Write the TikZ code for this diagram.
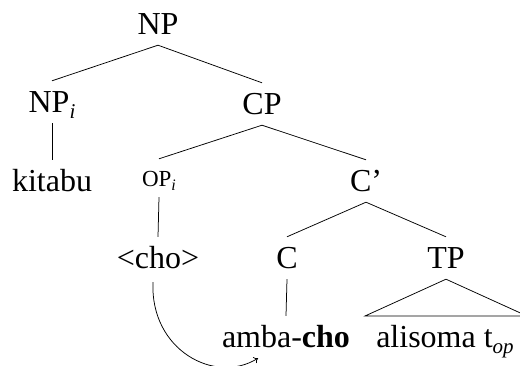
\documentclass[tikz,border=0pt]{standalone}
\usepackage{fontspec}
\setmainfont{Liberation Serif}
\usetikzlibrary{arrows.meta}
\newcommand\subsc[1]{\raisebox{-5.5pt}{\fontsize{21}{22}\selectfont\itshape #1}}
\newcommand\subsm[1]{\raisebox{-4pt}{\fontsize{16}{17}\selectfont\itshape #1}}
\begin{document}
\begin{tikzpicture}[x=1pt,y=-1pt,
  lbl/.style={anchor=base, font=\fontsize{32}{36}\selectfont, text height=22pt, text depth=0pt, inner xsep=0pt, inner ysep=10pt},
  small/.style={lbl, font=\fontsize{23}{26}\selectfont, text height=18pt},
  edge/.style={line width=0.75pt, black}]
\useasboundingbox (0,0) rectangle (520,366);
\clip (0,0) rectangle (520,366);
\node[lbl] (np) at (158,35) {NP};
\node[lbl] (npi) at (52,113) {NP\subsc{i}};
\node[lbl] (cp) at (262,115) {CP};
\node[lbl] (kit) at (52,192) {kitabu};
\node[small] (op) at (159,187) {OP\subsm{i}};
\node[lbl] (cbar) at (366,192) {C’};
\node[lbl] (cho) at (158,269) {<cho>};
\node[lbl] (c) at (287,269) {C};
\node[lbl] (tp) at (446,269) {TP};
\node[lbl] (amba) at (286,348) {amba-\textbf{cho}};
\node[lbl] (alis) at (445,348) {alisoma t\subsc{op}};
\coordinate (tl) at (365,316);
\coordinate (tr) at (527,316);
\draw[edge] (np.south) -- (npi.north);
\draw[edge] (np.south) -- (cp.north);
\draw[edge] (npi.south) -- (kit.north);
\draw[edge] (cp.south) -- (op.north);
\draw[edge] (cp.south) -- (cbar.north);
\draw[edge] (op.south) -- (cho.north);
\draw[edge] (cbar.south) -- (c.north);
\draw[edge] (cbar.south) -- (tp.north);
\draw[edge] (c.south) -- (amba.north);
\draw[edge] (tp.south) -- (tl) -- (tr) -- cycle;
\draw[edge,-{To[length=4pt,width=7pt]}] ([xshift=-5pt,yshift=-3pt]cho.south) .. controls (150,350) and (215,385) .. ([xshift=-28pt]amba.south);
\end{tikzpicture}
\end{document}
